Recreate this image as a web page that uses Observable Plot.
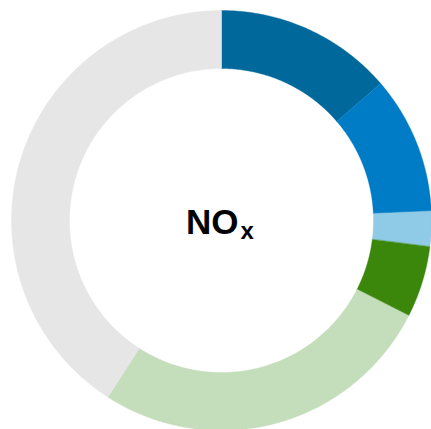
<!DOCTYPE html>
<html>
<head>
<meta charset="utf-8">
<script src="https://cdn.jsdelivr.net/npm/d3@7"></script>
<script src="https://cdn.jsdelivr.net/npm/@observablehq/plot@0.6"></script>
<style>
  html, body { margin: 0; padding: 0; background: #fff; }
  #chart svg { display: block; }
</style>
</head>
<body>
<div id="chart"></div>
<script>
// Data (shares in percent, clockwise from 12 o'clock)
const categories = ["A", "B", "C", "D", "E", "F"];
const values = [13.7, 10.6, 2.7, 5.5, 26.6, 40.9];
const colors = ["#00689b", "#007bc6", "#8fcae7", "#3a870c", "#c4ddbb", "#e6e6e6"];
const centerLabel = "NO";
const centerSub = "x";

const innerRatio = 152 / 210;

const pie = d3.pie().sort(null).value(d => d.value);
const arcs = pie(categories.map((c, i) => ({name: c, value: values[i]})));

// polygon vertices (data units) for each slice of the ring
const pts = [];
for (const a of arcs) {
  const n = Math.max(8, Math.ceil((a.endAngle - a.startAngle) / 0.01));
  for (let k = 0; k <= n; k++) {
    const t = a.startAngle + (a.endAngle - a.startAngle) * k / n;
    pts.push({name: a.data.name, u: Math.sin(t), v: Math.cos(t)});
  }
  for (let k = n; k >= 0; k--) {
    const t = a.startAngle + (a.endAngle - a.startAngle) * k / n;
    pts.push({name: a.data.name, u: innerRatio * Math.sin(t), v: innerRatio * Math.cos(t)});
  }
}

const chart = Plot.plot({
  width: 431,
  height: 429,
  margin: 0,
  x: {domain: [-221 / 210, 1], axis: null},
  y: {domain: [-209 / 210, 220 / 210], axis: null},
  color: {domain: categories, range: colors},
  style: {background: "#fff"},
  marks: [
    Plot.line(pts, {x: "u", y: "v", z: "name", fill: "name", stroke: "name", strokeWidth: 0.4, curve: "linear-closed"}),
    Plot.text([0], {x: () => 0, y: () => 0, text: () => centerLabel, textAnchor: "end", dx: 17, dy: 2,
      fontSize: 35, fontWeight: "bold", fontFamily: "Liberation Sans, Arial, sans-serif", fill: "#000"}),
    Plot.text([0], {x: () => 0, y: () => 0, text: () => centerSub, textAnchor: "start", dx: 19, dy: 11,
      fontSize: 24, fontWeight: "bold", fontFamily: "Liberation Sans, Arial, sans-serif", fill: "#000"})
  ]
});
document.getElementById("chart").appendChild(chart);
</script>
</body>
</html>
